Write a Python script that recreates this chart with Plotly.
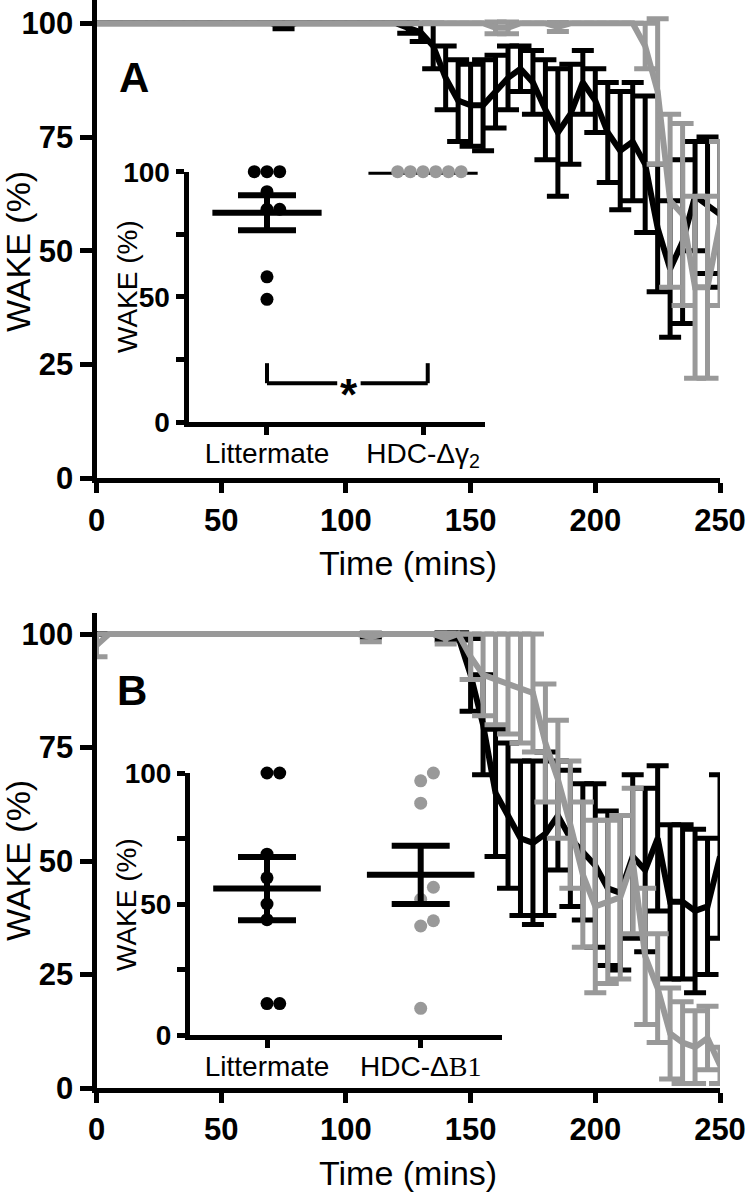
import numpy as np
import plotly.graph_objects as go

W, H = 747, 1199
FONT = "Liberation Sans, Arial, Helvetica, sans-serif"
BLACK = "#000000"
GRAY = "#999999"

# ---------------- data ----------------
time_min = [0, 5, 10, 15, 20, 25, 30, 35, 40, 45,
            50, 55, 60, 65, 70, 75, 80, 85, 90, 95,
            100, 105, 110, 115, 120, 125, 130, 135, 140, 145,
            150, 155, 160, 165, 170, 175, 180, 185, 190, 195,
            200, 205, 210, 215, 220, 225, 230, 235, 240, 245,
            250]

# Panel A: Littermate (black) and HDC-Δγ2 (gray), WAKE %, mean and SEM
lm_a_mean = [100, 100, 100, 100, 100, 100, 100, 100, 100, 100,
             100, 100, 100, 100, 100, 99.5, 100, 100, 100, 100,
             100, 100, 100, 100, 100, 99, 98, 95, 88, 83,
             82, 82, 85, 88, 90, 87, 81, 76, 80, 87,
             83, 76, 72, 74, 69, 55, 46, 52, 62, 60,
             58]
lm_a_sem = [0, 0, 0, 0, 0, 0, 0, 0, 0, 0,
            0, 0, 0, 0, 0, 0.7, 0, 0, 0, 0,
            0, 0, 0, 0, 0, 1.2, 2, 5, 7, 9,
            9, 10, 8, 7, 5, 7, 11, 14, 11, 7,
            7, 11, 13, 13, 15, 14, 15, 18, 12, 15,
            16]
hdc_a_mean = [100, 100, 100, 100, 100, 100, 100, 100, 100, 100,
              100, 100, 100, 100, 100, 100, 100, 100, 100, 100,
              100, 100, 100, 100, 100, 100, 100, 100, 100, 100,
              100, 100, 99, 99, 100, 100, 100, 99.2, 100, 100,
              100, 100, 100, 100, 95, 85, 61, 58, 42, 42,
              56]
hdc_a_sem = [0, 0, 0, 0, 0, 0, 0, 0, 0, 0,
             0, 0, 0, 0, 0, 0, 0, 0, 0, 0,
             0, 0, 0, 0, 0, 0, 0, 0, 0, 0,
             0, 0, 1.3, 1.3, 0, 0, 0, 1.0, 0, 0,
             0, 0, 0, 0, 5, 16, 19, 20, 20, 20,
             18]

# Panel B: Littermate (black) and HDC-ΔB1 (gray)
lm_b_mean = [100, 100, 100, 100, 100, 100, 100, 100, 100, 100,
             100, 100, 100, 100, 100, 100, 100, 100, 100, 100,
             100, 100, 99.7, 100, 100, 100, 100, 100, 99.5, 99.5,
             91, 80, 65, 60, 55, 54, 56, 60, 55, 52,
             49, 44, 43, 51, 48, 55, 41, 41, 39, 40,
             51]
lm_b_sem = [0, 0, 0, 0, 0, 0, 0, 0, 0, 0,
            0, 0, 0, 0, 0, 0, 0, 0, 0, 0,
            0, 0, 0.4, 0, 0, 0, 0, 0, 0.8, 0.8,
            8, 11, 14, 16, 17, 18, 18, 12, 15, 15,
            18, 17, 17, 18, 18, 16, 17, 17, 18, 15,
            18]
hdc_b_mean = [97.5, 100, 100, 100, 100, 100, 100, 100, 100, 100,
              100, 100, 100, 100, 100, 100, 100, 100, 100, 100,
              100, 100, 99.3, 100, 100, 100, 100, 100, 99, 100,
              95, 91, 90, 89, 88, 87, 76, 68, 58, 47,
              40, 41, 42, 50, 29, 22, 12, 10, 9, 11,
              5]
hdc_b_sem = [2.5, 0, 0, 0, 0, 0, 0, 0, 0, 0,
             0, 0, 0, 0, 0, 0, 0, 0, 0, 0,
             0, 0, 1, 0, 0, 0, 0, 0, 1.2, 0,
             5, 9, 10, 11, 12, 13, 13, 13, 14, 16,
             19, 18, 18, 16, 15, 12, 10, 9, 8, 7,
             4]

# Insets: individual animals
inset_groups_a = ["Littermate", "HDC-Δγ<sub>2</sub>"]
lm_a_vals = [100, 100, 100, 92, 85, 85, 58, 49]
hdc_a_vals = [100, 100, 100, 100, 100, 100]
inset_groups_b = ["Littermate", "HDC-Δ<span style='font-family:Liberation Serif, Times New Roman, serif'>B1</span>"]
lm_b_vals = [100, 100, 69, 60, 50, 44, 12, 12]
hdc_b_vals = [97, 100, 88.5, 51.8, 56.4, 41.6, 43.6, 10.2]

main_xticks = [0, 50, 100, 150, 200, 250]
main_yticks = [0, 25, 50, 75, 100]
inset_ylabels = [0, 50, 100]
inset_minor_dtick = 25


# ---------------- helpers ----------------
def fx(px):
    return px / W


def fy(py):
    return 1 - py / H


def errs(a):
    return [e if e > 0 else None for e in a]


def series(x, y, e, color, xa, ya):
    return go.Scatter(
        x=x, y=y, mode="lines", xaxis=xa, yaxis=ya, cliponaxis=False,
        line=dict(color=color, width=6),
        error_y=dict(type="data", array=errs(e), visible=True,
                     color=color, thickness=5, width=11),
        showlegend=False, hoverinfo="skip")


def swarm(vals, px_per_val, px_per_cat, dot_px):
    placed, offs = [], []
    for v in vals:
        y = v * px_per_val
        for k in [0, 1, -1, 2, -2, 3, -3, 4, -4]:
            x = k * dot_px
            if all((x - a) ** 2 + (y - b) ** 2 >= (dot_px * 0.95) ** 2 for a, b in placed):
                break
        placed.append((x, y))
        offs.append(x / px_per_cat)
    return offs


fig = go.Figure()

# main series
fig.add_trace(series(time_min, lm_a_mean, lm_a_sem, BLACK, "x", "y"))
fig.add_trace(series(time_min, hdc_a_mean, hdc_a_sem, GRAY, "x", "y"))
fig.add_trace(series(time_min, lm_b_mean, lm_b_sem, BLACK, "x2", "y2"))
fig.add_trace(series(time_min, hdc_b_mean, hdc_b_sem, GRAY, "x2", "y2"))


def inset(vals, cat, color, xa, ya, px_per_val, px_per_cat, dots_on_top):
    offs = swarm(vals, px_per_val, px_per_cat, 12.7)
    xs = [cat + o for o in offs]
    m = float(np.mean(vals))
    sem = float(np.std(vals, ddof=1) / np.sqrt(len(vals)))
    dots = go.Scatter(x=xs, y=vals, mode="markers", xaxis=xa, yaxis=ya, cliponaxis=False,
                      marker=dict(size=13, color=color, line=dict(width=0)),
                      showlegend=False, hoverinfo="skip")
    mean_line = go.Scatter(x=[cat - 0.35, cat + 0.35], y=[m, m], mode="lines",
                           xaxis=xa, yaxis=ya, cliponaxis=False,
                           line=dict(color=BLACK, width=6), showlegend=False, hoverinfo="skip")
    tr = [mean_line]
    if sem > 0:
        tr.append(go.Scatter(x=[cat], y=[m], mode="markers", xaxis=xa, yaxis=ya, cliponaxis=False,
                             marker=dict(size=1, opacity=0),
                             error_y=dict(type="data", array=[sem], visible=True, color=BLACK,
                                          thickness=6, width=29),
                             showlegend=False, hoverinfo="skip"))
    if dots_on_top:
        tr = tr + [dots]
    else:
        tr = [dots] + tr
    for t in tr:
        fig.add_trace(t)


inset(lm_a_vals, 0, BLACK, "x3", "y3", 2.5, 156, True)
inset(hdc_a_vals, 1, GRAY, "x3", "y3", 2.5, 156, True)
inset(lm_b_vals, 0, BLACK, "x4", "y4", 2.62, 153.7, True)
inset(hdc_b_vals, 1, GRAY, "x4", "y4", 2.62, 153.7, False)

# ---------------- axes ----------------
tickfont_main = dict(family=FONT, size=31, color=BLACK, weight="bold")
tickfont_inset = dict(family=FONT, size=28, color=BLACK, weight="bold")
catfont = dict(family=FONT, size=28, color=BLACK)

axis_common = dict(showgrid=False, zeroline=False, showline=True, linecolor=BLACK,
                   linewidth=5, ticks="outside", tickcolor=BLACK, tickwidth=5,
                   fixedrange=True, automargin=False)
inset_minor = dict(ticks="outside", ticklen=8, tickwidth=5, tickcolor=BLACK,
                   tick0=0, dtick=inset_minor_dtick, showgrid=False)

x0_px, x250_px = 96.5, 720.0

layout = dict(
    width=W, height=H, autosize=False,
    margin=dict(l=0, r=0, t=0, b=0, pad=0, autoexpand=False),
    paper_bgcolor="white", plot_bgcolor="rgba(0,0,0,0)",
    showlegend=False,
    xaxis=dict(domain=[fx(x0_px), fx(x250_px)], range=[0, 250], anchor="y",
               tickvals=main_xticks, ticklen=10, tickfont=tickfont_main, **axis_common),
    yaxis=dict(domain=[fy(478.3), 1.0], range=[0, 478.3 / 4.55], anchor="x",
               tickvals=main_yticks, ticklen=12, tickfont=tickfont_main, **axis_common),
    xaxis2=dict(domain=[fx(x0_px), fx(x250_px)], range=[0, 250], anchor="y2",
                tickvals=main_xticks, ticklen=10, tickfont=tickfont_main, **axis_common),
    yaxis2=dict(domain=[fy(1088), fy(613)], range=[0, (1088 - 613) / 4.54], anchor="x2",
                tickvals=main_yticks, ticklen=12, tickfont=tickfont_main, **axis_common),
    xaxis3=dict(domain=[fx(188.5), fx(485)], range=[-0.503, 1.397], anchor="y3",
                tickvals=[0, 1], ticktext=inset_groups_a, ticklen=8, tickfont=catfont,
                ticklabelstandoff=-6, **axis_common),
    yaxis3=dict(domain=[fy(422), fy(171.7)], range=[0, 100], anchor="x3",
                tickvals=inset_ylabels, ticklen=8, minor=inset_minor,
                tickfont=tickfont_inset, **axis_common),
    xaxis4=dict(domain=[fx(190), fx(501.7)], range=[-0.501, 1.527], anchor="y4",
                tickvals=[0, 1], ticktext=inset_groups_b, ticklen=8, tickfont=catfont,
                ticklabelstandoff=-6, **axis_common),
    yaxis4=dict(domain=[fy(1035), fy(773)], range=[0, 100], anchor="x4",
                tickvals=inset_ylabels, ticklen=8, minor=inset_minor,
                tickfont=tickfont_inset, **axis_common),
)
fig.update_layout(**layout)

# significance bracket in inset A
bracket = dict(type="line", xref="x3", yref="y3", line=dict(color=BLACK, width=4))
fig.add_shape(x0=0, x1=0, y0=23.5, y1=15.5, **bracket)
fig.add_shape(x0=1.03, x1=1.03, y0=23.5, y1=15.5, **bracket)
fig.add_shape(x0=0, x1=0.45, y0=15.5, y1=15.5, **bracket)
fig.add_shape(x0=0.60, x1=1.03, y0=15.5, y1=15.5, **bracket)

annotations = [
    dict(text="*", x=0.525, y=15.5, xref="x3", yref="y3", showarrow=False,
         font=dict(family=FONT, size=44, color=BLACK, weight="bold"), yshift=-11,
         xanchor="center", yanchor="middle"),
    dict(text="A", x=fx(134), y=fy(77), xref="paper", yref="paper", showarrow=False,
         font=dict(family=FONT, size=42, color=BLACK, weight="bold"),
         xanchor="center", yanchor="middle"),
    dict(text="B", x=fx(132), y=fy(690), xref="paper", yref="paper", showarrow=False,
         font=dict(family=FONT, size=42, color=BLACK, weight="bold"),
         xanchor="center", yanchor="middle"),
    dict(text="WAKE (%)", x=fx(18), y=fy(252), xref="paper", yref="paper", showarrow=False,
         textangle=-90, font=dict(family=FONT, size=34, color=BLACK),
         xanchor="center", yanchor="middle"),
    dict(text="WAKE (%)", x=fx(18), y=fy(861), xref="paper", yref="paper", showarrow=False,
         textangle=-90, font=dict(family=FONT, size=34, color=BLACK),
         xanchor="center", yanchor="middle"),
    dict(text="Time (mins)", x=fx(408), y=fy(563), xref="paper", yref="paper", showarrow=False,
         font=dict(family=FONT, size=34, color=BLACK), xanchor="center", yanchor="middle"),
    dict(text="Time (mins)", x=fx(408), y=fy(1173), xref="paper", yref="paper", showarrow=False,
         font=dict(family=FONT, size=34, color=BLACK), xanchor="center", yanchor="middle"),
    dict(text="WAKE (%)", x=fx(127), y=fy(287), xref="paper", yref="paper", showarrow=False,
         textangle=-90, font=dict(family=FONT, size=28, color=BLACK),
         xanchor="center", yanchor="middle"),
    dict(text="WAKE (%)", x=fx(126), y=fy(904), xref="paper", yref="paper", showarrow=False,
         textangle=-90, font=dict(family=FONT, size=28, color=BLACK),
         xanchor="center", yanchor="middle"),
]
fig.update_layout(annotations=annotations)

fig.write_html("out.html", config={"displayModeBar": False, "staticPlot": True},
               post_script="document.body.style.margin='0';document.body.style.padding='0';document.body.style.overflow='hidden';")
